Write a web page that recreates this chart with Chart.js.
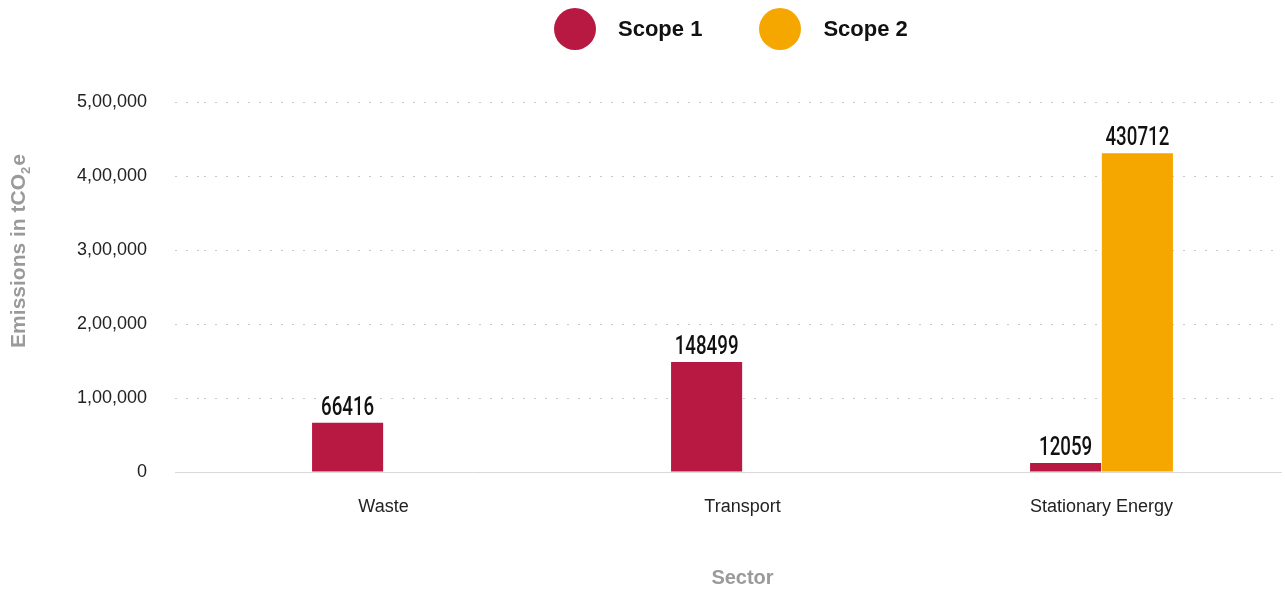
<!DOCTYPE html>
<html>
<head>
<meta charset="utf-8">
<script src="https://cdn.jsdelivr.net/npm/chart.js@4.4.1/dist/chart.umd.min.js"></script>
<style>
    html, body { margin: 0; padding: 0; background: #fff; }
    #wrap { position: relative; width: 1285px; height: 590px; }
    #legend {
        position: absolute; top: 8px; left: 554px;
        display: flex; align-items: center;
        font-family: "Liberation Sans", Arial, sans-serif;
        font-weight: bold; font-size: 22px; color: #111;
    }
    .legend-item { display: flex; align-items: center; margin-right: 57px; }
    .legend-dot { width: 42px; height: 42px; border-radius: 50%; margin-right: 22px; }
</style>
</head>
<body>
<div id="wrap">
    <canvas id="emissions-chart" width="1285" height="590"></canvas>
    <div id="legend"></div>
</div>
<script>
// Sector emissions data
const sectors = ['Waste', 'Transport', 'Stationary Energy'];
const scope1 = [66416, 148499, 12059];
const scope2 = [null, null, 430712];
const seriesNames = ['Scope 1', 'Scope 2'];
const seriesColors = ['#B81942', '#F5A700'];
const yTicks = [0, 100000, 200000, 300000, 400000, 500000];

const FONT = '"Liberation Sans", Arial, sans-serif';

// Value labels above each bar, in a narrow face
const barLabels = {
    id: 'barLabels',
    afterDatasetsDraw(chart) {
        const ctx = chart.ctx;
        ctx.save();
        ctx.fillStyle = '#111';
        ctx.font = '500 26px Roboto, sans-serif';
        ctx.textAlign = 'center';
        ctx.textBaseline = 'alphabetic';
        chart.data.datasets.forEach((ds, di) => {
            const meta = chart.getDatasetMeta(di);
            meta.data.forEach((bar, i) => {
                const v = ds.data[i];
                if (v === null || v === undefined) return;
                ctx.save();
                ctx.translate(bar.x, bar.y - 8);
                ctx.scale(0.72, 1);
                ctx.fillText(String(v), 0, 0);
                ctx.restore();
            });
        });
        ctx.restore();
    }
};

// Y axis title with subscript 2
const yTitle = {
    id: 'yTitle',
    afterDraw(chart) {
        const ctx = chart.ctx;
        const main = 'Emissions in tCO';
        const sub = '2';
        const tail = 'e';
        ctx.save();
        ctx.fillStyle = '#9a9a9a';
        ctx.textBaseline = 'alphabetic';
        ctx.textAlign = 'left';
        ctx.font = 'bold 21px ' + FONT;
        const wMain = ctx.measureText(main).width;
        const wTail = ctx.measureText(tail).width;
        ctx.font = 'bold 13px ' + FONT;
        const wSub = ctx.measureText(sub).width + 1;
        const total = wMain + wSub + wTail;
        ctx.translate(25, 251);
        ctx.rotate(-Math.PI / 2);
        let x = -total / 2;
        ctx.font = 'bold 21px ' + FONT;
        ctx.fillText(main, x, 0);
        x += wMain;
        ctx.font = 'bold 13px ' + FONT;
        ctx.fillText(sub, x, 5);
        x += wSub;
        ctx.font = 'bold 21px ' + FONT;
        ctx.fillText(tail, x, 0);
        ctx.restore();
    }
};

function formatIndian(value) {
    return Number(value).toLocaleString('en-IN');
}

function buildLegend() {
    const legend = document.getElementById('legend');
    seriesNames.forEach((name, i) => {
        const item = document.createElement('div');
        item.className = 'legend-item';
        const dot = document.createElement('span');
        dot.className = 'legend-dot';
        dot.style.background = seriesColors[i];
        const text = document.createElement('span');
        text.textContent = name;
        item.appendChild(dot);
        item.appendChild(text);
        legend.appendChild(item);
    });
}

function initChart() {
    const ctx = document.getElementById('emissions-chart').getContext('2d');
    new Chart(ctx, {
        type: 'bar',
        data: {
            labels: sectors,
            datasets: [
                {
                    label: seriesNames[0],
                    data: scope1,
                    backgroundColor: seriesColors[0],
                    categoryPercentage: 0.4,
                    barPercentage: 0.99
                },
                {
                    label: seriesNames[1],
                    data: scope2,
                    backgroundColor: seriesColors[1],
                    categoryPercentage: 0.4,
                    barPercentage: 0.99
                }
            ]
        },
        options: {
            responsive: false,
            animation: false,
            layout: {
                padding: { top: 102, right: 4, bottom: 0, left: 0 }
            },
            plugins: {
                legend: { display: false },
                tooltip: { enabled: false }
            },
            scales: {
                x: {
                    afterFit: scale => { scale.height = 118; },
                    grid: { display: false, drawTicks: false },
                    border: { display: true, color: '#d9d9d9', width: 1 },
                    ticks: {
                        padding: 24,
                        color: '#222',
                        font: { family: FONT, size: 18 }
                    },
                    title: {
                        display: true,
                        text: 'Sector',
                        color: '#9a9a9a',
                        padding: { top: 4, bottom: 0 },
                        font: { family: FONT, size: 20, weight: 'bold' }
                    }
                },
                y: {
                    min: 0,
                    max: yTicks[yTicks.length - 1],
                    afterFit: scale => { scale.width = 204; },
                    afterBuildTicks: scale => {
                        scale.ticks = yTicks.map(v => ({ value: v }));
                    },
                    grid: {
                        color: '#c8c8c8',
                        lineWidth: 1,
                        drawTicks: true,
                        tickLength: 29,
                        tickColor: c => c.tick && c.tick.value === 0 ? '#d9d9d9' : '#c8c8c8',
                        tickBorderDash: c => c.tick && c.tick.value === 0 ? [] : [2, 9]
                    },
                    border: { display: false, dash: [2, 9] },
                    ticks: {
                        padding: 28,
                        color: '#222',
                        font: { family: FONT, size: 18 },
                        callback: value => formatIndian(value)
                    }
                }
            }
        },
        plugins: [barLabels, yTitle]
    });
}

buildLegend();
initChart();
</script>
</body>
</html>
